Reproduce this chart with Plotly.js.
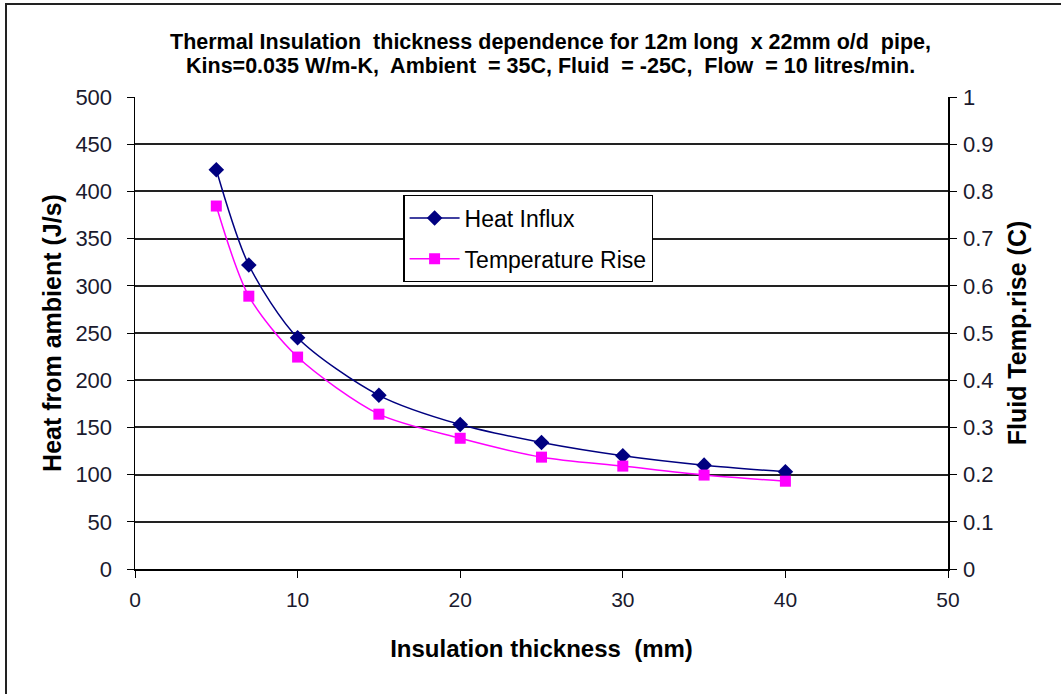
<!DOCTYPE html>
<html>
<head>
<meta charset="utf-8">
<script src="https://cdn.plot.ly/plotly-3.0.1.min.js"></script>
<style>
  html, body { margin: 0; padding: 0; background: #fff; }
  #frame { position: absolute; left: 5px; top: 3px; width: 1056px; height: 691px;
           border-left: 2px solid #222; border-top: 2px solid #222; pointer-events: none; z-index: 10; }
  #chart { width: 1061px; height: 694px; }
</style>
</head>
<body>
<div id="frame"></div>
<div id="chart"></div>
<script>
const thickness = [5, 7, 10, 15, 20, 25, 30, 35, 40];
const heatInflux = [423, 322, 245, 184, 153, 134, 120, 110, 103];
const tempRise = [0.769, 0.578, 0.449, 0.328, 0.277, 0.237, 0.218, 0.199, 0.186];
const xTicks = [0, 10, 20, 30, 40, 50];
const yTicks = [0, 50, 100, 150, 200, 250, 300, 350, 400, 450, 500];
const y2Ticks = [0, 0.1, 0.2, 0.3, 0.4, 0.5, 0.6, 0.7, 0.8, 0.9, 1];
const titleLines = [
  "Thermal Insulation  thickness dependence for 12m long  x 22mm o/d  pipe,",
  "Kins=0.035 W/m-K,  Ambient  = 35C, Fluid  = -25C,  Flow  = 10 litres/min."
];

const font = "Liberation Sans, Arial, sans-serif";
const tickCol = "#1a1a2e";

const traces = [
  {
    x: thickness, y: heatInflux, name: "Heat Influx", type: "scatter", mode: "lines+markers",
    legendgroup: "a",
    line: { color: "#000080", width: 1.5, shape: "spline", smoothing: 0.8 },
    marker: { symbol: "diamond", size: 12, color: "#000080" }
  },
  {
    x: thickness, y: tempRise, name: "Temperature Rise", type: "scatter", mode: "lines+markers",
    yaxis: "y2", legendgroup: "b",
    line: { color: "#FF00FF", width: 1.5, shape: "spline", smoothing: 0.8 },
    marker: { symbol: "square", size: 11, color: "#FF00FF" }
  }
];

const layout = {
  width: 1061, height: 694,
  margin: { l: 135, r: 113, t: 97, b: 125 },
  paper_bgcolor: "#fff", plot_bgcolor: "#fff",
  font: { family: font, size: 17, color: "#000" },
  showlegend: true,
  annotations: [
    { text: "<b>" + titleLines[0] + "</b>", xref: "paper", yref: "paper", x: 0.5105, y: 1.1165,
      xanchor: "center", yanchor: "middle", showarrow: false, font: { size: 21.5, color: "#000" } },
    { text: "<b>" + titleLines[1] + "</b>", xref: "paper", yref: "paper", x: 0.5105, y: 1.0657,
      xanchor: "center", yanchor: "middle", showarrow: false, font: { size: 21.5, color: "#000" } }
  ],
  xaxis: {
    range: [0, 50], tickvals: xTicks, ticktext: xTicks.map(String),
    showgrid: false, zeroline: false, showline: true, linecolor: "#000", linewidth: 1.5,
    ticks: "outside", ticklen: 7, tickcolor: "#000", tickfont: { size: 21, color: tickCol },
    ticklabelstandoff: 4,
    title: { text: "<b>Insulation thickness  (mm)</b>", font: { size: 24 }, standoff: 30 }
  },
  yaxis: {
    range: [0, 500], tickvals: yTicks, ticktext: yTicks.map(String),
    showgrid: true, gridcolor: "#222", gridwidth: 2, zeroline: false,
    showline: true, linecolor: "#000", linewidth: 1.5,
    ticks: "outside", ticklen: 7, tickcolor: "#000", tickfont: { size: 22, color: tickCol },
    ticklabelstandoff: 10,
    title: { text: "<b>Heat from ambient (J/s)</b>", font: { size: 25 }, standoff: 6 }
  },
  yaxis2: {
    range: [0, 1], tickvals: y2Ticks, ticktext: y2Ticks.map(String),
    overlaying: "y", side: "right", showgrid: false, zeroline: false,
    showline: true, linecolor: "#000", linewidth: 1.5,
    ticks: "outside", ticklen: 7, tickcolor: "#000", tickfont: { size: 22, color: tickCol },
    ticklabelstandoff: 2,
    title: { text: "<b>Fluid Temp.rise (C)</b>", font: { size: 25 }, standoff: 16 }
  },
  legend: {
    x: 0.33, y: 0.792, xanchor: "left", yanchor: "top",
    bgcolor: "#fff", bordercolor: "#000", borderwidth: 1.3,
    font: { size: 23, color: "#000" }, tracegroupgap: 8, itemwidth: 50
  }
};

Plotly.newPlot("chart", traces, layout, { displayModeBar: false, staticPlot: true });
</script>
</body>
</html>
